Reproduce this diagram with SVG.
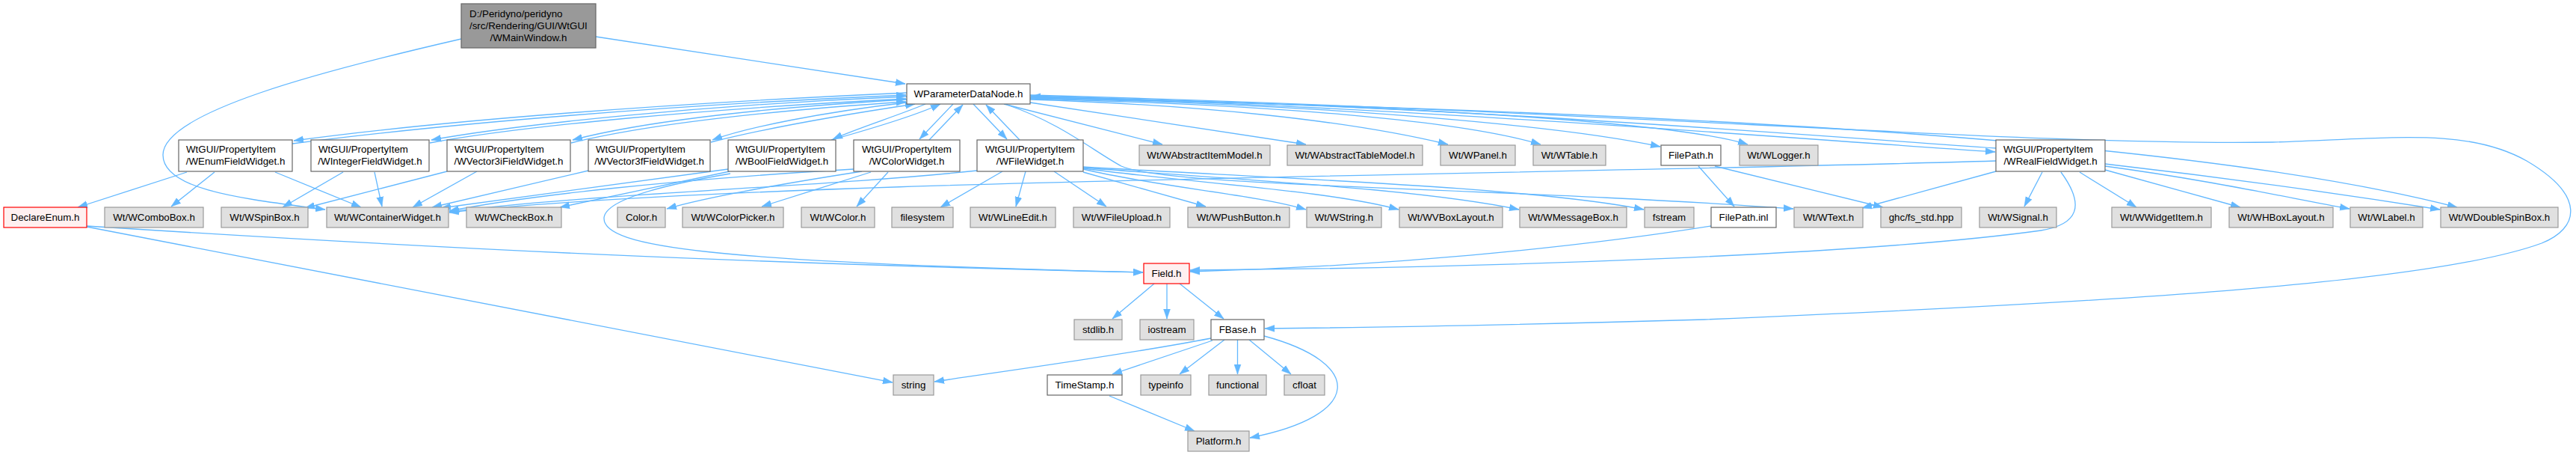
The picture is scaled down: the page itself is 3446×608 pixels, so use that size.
<svg xmlns="http://www.w3.org/2000/svg" width="3446" height="608" viewBox="0 0 3446 608">
<defs>
<marker id="a" viewBox="0 0 13 10" refX="13" refY="5" markerWidth="13" markerHeight="10" markerUnits="userSpaceOnUse" orient="auto">
<path d="M0,0.5 L13,5 L0,9.5 Z" fill="#63b8ff" stroke="#63b8ff" stroke-width="0.5"/>
</marker>
<style>
.w{fill:#fff;stroke:#666;stroke-width:1.2}
.g{fill:#e0e0e0;stroke:#999;stroke-width:1.2}
.r{fill:#fff0f0;stroke:#f00;stroke-width:1.2}
.m{fill:#999;stroke:#666;stroke-width:1.2}
text{font-family:"Liberation Sans",Arial,Helvetica,sans-serif;font-size:13.33px;fill:#000}
.c{text-anchor:middle}
#edges path{fill:none;stroke:#63b8ff;stroke-width:1.3;marker-end:url(#a)}
</style>
</defs>
<rect width="3446" height="608" fill="#fff"/>
<g id="edges">
<path d="M797,49 L1211,112"/>
<path d="M617,52 C430,95 218,150 218,207 C218,255 330,266 435,280"/>
<path d="M1213,124 C900,138 600,160 393,188"/>
<path d="M391,192 C600,165 900,140 1212,127"/>
<path d="M1213,129 C950,140 700,165 577,187"/>
<path d="M575,191 C700,168 950,145 1212,132"/>
<path d="M1213,133 C1000,145 850,165 766,187"/>
<path d="M764,191 C850,170 1000,150 1212,136"/>
<path d="M1213,137 C1100,150 1000,170 953,187"/>
<path d="M951,190 C1030,170 1150,150 1224,139"/>
<path d="M1238,139 C1200,155 1150,170 1114,186"/>
<path d="M1112,187 C1180,168 1230,152 1258,139"/>
<path d="M1275,139 L1230,186"/>
<path d="M1243,187 L1288,140"/>
<path d="M1302,139 L1347,186"/>
<path d="M1364,187 L1319,140"/>
<path d="M1378,128 C1900,145 2300,178 2669,203"/>
<path d="M2670,198 C2300,172 1900,140 1379,129"/>
<path d="M1343,139 L1555,193"/>
<path d="M1378,137 L1747,193"/>
<path d="M1378,133 C1600,140 1800,160 1937,193"/>
<path d="M1378,132 C1700,140 1950,160 2061,193"/>
<path d="M1378,131 C1800,140 2100,170 2221,196"/>
<path d="M1378,130 C1900,140 2250,165 2338,193"/>
<path d="M1378,131 C2300,150 2950,190 3287,277"/>
<path d="M1378,127 C2200,150 2700,195 3040,190 C3200,185 3300,170 3380,215 C3460,262 3450,305 3400,325 C3250,380 2800,405 2280,427 C2000,435 1800,438 1692,439"/>
<path d="M1347,140 C1420,165 1460,200 1500,222 C1560,250 2000,250 2399,279"/>
<path d="M1341,229 L1258,277"/>
<path d="M1372,229 L1359,276"/>
<path d="M1410,229 L1480,276"/>
<path d="M1449,230 L1613,276"/>
<path d="M1449,226 C1550,250 1680,260 1747,280"/>
<path d="M1449,225 C1600,245 1780,255 1871,280"/>
<path d="M1449,224 C1650,240 1900,252 2032,280"/>
<path d="M1449,223 C1700,238 2050,250 2199,280"/>
<path d="M1307,228 C1100,250 800,258 601,283"/>
<path d="M2670,215 C2000,235 1000,240 601,284"/>
<path d="M1142,226 C900,240 700,262 601,282"/>
<path d="M974,226 L590,278"/>
<path d="M787,228 L578,277"/>
<path d="M638,229 L552,277"/>
<path d="M598,229 L408,278"/>
<path d="M459,230 L378,277"/>
<path d="M501,230 L511,276"/>
<path d="M250,230 L104,277"/>
<path d="M287,230 L229,276"/>
<path d="M368,230 L483,277"/>
<path d="M976,229 L749,277"/>
<path d="M977,232 C870,250 808,270 808,292 C808,330 950,350 1529,364"/>
<path d="M1153,229 C1050,245 950,262 892,279"/>
<path d="M1165,230 L1019,276"/>
<path d="M1188,230 L1146,276"/>
<path d="M116,302 C600,333 1000,352 1529,364"/>
<path d="M116,303 L1194,511"/>
<path d="M1544,379 L1488,426"/>
<path d="M1561,379 L1561,426"/>
<path d="M1578,379 L1637,426"/>
<path d="M1620,452 C1500,475 1350,495 1250,510"/>
<path d="M1622,455 L1488,500"/>
<path d="M1638,454 L1578,500"/>
<path d="M1655.5,454 L1655.5,500"/>
<path d="M1671,454 L1727,500"/>
<path d="M1691,449 C1825,485 1825,555 1672,585"/>
<path d="M1484,529 L1598,576"/>
<path d="M2272,222 L2320,276"/>
<path d="M2294,222 L2519,277"/>
<path d="M2289,302 C2100,332 1850,356 1592,363"/>
<path d="M2757,230 C2790,275 2780,300 2730,308 C2500,340 2000,358 1592,361"/>
<path d="M2670,229 L2491,278"/>
<path d="M2732,230 L2708,276"/>
<path d="M2782,230 L2858,277"/>
<path d="M2816,227 L2997,277"/>
<path d="M2816,222 C2950,240 3050,262 3143,279"/>
<path d="M2816,219 C3000,240 3150,262 3264,280"/>
</g>
<g id="n_main"><rect class="m" x="617" y="5" width="180" height="59"/><text x="628" y="22.5">D:/Peridyno/peridyno</text><text x="628" y="38.5">/src/Rendering/GUI/WtGUI</text><text class="c" x="707" y="54.5">/WMainWindow.h</text></g>
<g id="n_param"><rect class="w" x="1213" y="112" width="165" height="27"/><text class="c" x="1295.5" y="130">WParameterDataNode.h</text></g>
<g id="n_enum"><rect class="w" x="239" y="187" width="152" height="42"/><text x="249" y="204">WtGUI/PropertyItem</text><text class="c" x="315" y="220">/WEnumFieldWidget.h</text></g>
<g id="n_int"><rect class="w" x="416" y="187" width="158" height="42"/><text x="426" y="204">WtGUI/PropertyItem</text><text class="c" x="495" y="220">/WIntegerFieldWidget.h</text></g>
<g id="n_v3i"><rect class="w" x="598" y="187" width="165" height="42"/><text x="608" y="204">WtGUI/PropertyItem</text><text class="c" x="680.5" y="220">/WVector3iFieldWidget.h</text></g>
<g id="n_v3f"><rect class="w" x="787" y="187" width="163" height="42"/><text x="797" y="204">WtGUI/PropertyItem</text><text class="c" x="868.5" y="220">/WVector3fFieldWidget.h</text></g>
<g id="n_bool"><rect class="w" x="974" y="187" width="144" height="42"/><text x="984" y="204">WtGUI/PropertyItem</text><text class="c" x="1046" y="220">/WBoolFieldWidget.h</text></g>
<g id="n_color"><rect class="w" x="1142" y="187" width="142" height="42"/><text x="1153" y="204">WtGUI/PropertyItem</text><text class="c" x="1213" y="220">/WColorWidget.h</text></g>
<g id="n_file"><rect class="w" x="1307" y="187" width="142" height="42"/><text x="1318" y="204">WtGUI/PropertyItem</text><text class="c" x="1378" y="220">/WFileWidget.h</text></g>
<g id="n_real"><rect class="w" x="2670" y="187" width="146" height="42"/><text x="2680" y="204">WtGUI/PropertyItem</text><text class="c" x="2743" y="220">/WRealFieldWidget.h</text></g>
<g id="n_aim"><rect class="g" x="1524" y="194" width="175" height="27"/><text class="c" x="1611.5" y="212">Wt/WAbstractItemModel.h</text></g>
<g id="n_atm"><rect class="g" x="1722" y="194" width="181" height="27"/><text class="c" x="1812.5" y="212">Wt/WAbstractTableModel.h</text></g>
<g id="n_panel"><rect class="g" x="1927" y="194" width="100" height="27"/><text class="c" x="1977" y="212">Wt/WPanel.h</text></g>
<g id="n_table"><rect class="g" x="2051" y="194" width="97" height="27"/><text class="c" x="2099.5" y="212">Wt/WTable.h</text></g>
<g id="n_filepath"><rect class="w" x="2222" y="194" width="80" height="27"/><text class="c" x="2262" y="212">FilePath.h</text></g>
<g id="n_logger"><rect class="g" x="2327" y="194" width="105" height="27"/><text class="c" x="2379.5" y="212">Wt/WLogger.h</text></g>
<g id="n_declareenum"><rect class="r" x="5" y="277" width="111" height="27"/><text class="c" x="60.5" y="295">DeclareEnum.h</text></g>
<g id="n_combobox"><rect class="g" x="140" y="277" width="132" height="27"/><text class="c" x="206" y="295">Wt/WComboBox.h</text></g>
<g id="n_spinbox"><rect class="g" x="296" y="277" width="116" height="27"/><text class="c" x="354" y="295">Wt/WSpinBox.h</text></g>
<g id="n_container"><rect class="g" x="437" y="277" width="163" height="27"/><text class="c" x="518.5" y="295">Wt/WContainerWidget.h</text></g>
<g id="n_checkbox"><rect class="g" x="624" y="277" width="127" height="27"/><text class="c" x="687.5" y="295">Wt/WCheckBox.h</text></g>
<g id="n_colorh"><rect class="g" x="826" y="277" width="64" height="27"/><text class="c" x="858" y="295">Color.h</text></g>
<g id="n_colorpicker"><rect class="g" x="913" y="277" width="135" height="27"/><text class="c" x="980.5" y="295">Wt/WColorPicker.h</text></g>
<g id="n_wcolor"><rect class="g" x="1072" y="277" width="98" height="27"/><text class="c" x="1121" y="295">Wt/WColor.h</text></g>
<g id="n_filesystem"><rect class="g" x="1193" y="277" width="82" height="27"/><text class="c" x="1234" y="295">filesystem</text></g>
<g id="n_lineedit"><rect class="g" x="1298" y="277" width="114" height="27"/><text class="c" x="1355" y="295">Wt/WLineEdit.h</text></g>
<g id="n_fileupload"><rect class="g" x="1436" y="277" width="129" height="27"/><text class="c" x="1500.5" y="295">Wt/WFileUpload.h</text></g>
<g id="n_pushbutton"><rect class="g" x="1589" y="277" width="136" height="27"/><text class="c" x="1657" y="295">Wt/WPushButton.h</text></g>
<g id="n_string_w"><rect class="g" x="1748" y="277" width="100" height="27"/><text class="c" x="1798" y="295">Wt/WString.h</text></g>
<g id="n_vbox"><rect class="g" x="1872" y="277" width="138" height="27"/><text class="c" x="1941" y="295">Wt/WVBoxLayout.h</text></g>
<g id="n_msgbox"><rect class="g" x="2033" y="277" width="143" height="27"/><text class="c" x="2104.5" y="295">Wt/WMessageBox.h</text></g>
<g id="n_fstream"><rect class="g" x="2200" y="277" width="66" height="27"/><text class="c" x="2233" y="295">fstream</text></g>
<g id="n_filepathinl"><rect class="w" x="2289" y="277" width="87" height="27"/><text class="c" x="2332.5" y="295">FilePath.inl</text></g>
<g id="n_wtext"><rect class="g" x="2400" y="277" width="92" height="27"/><text class="c" x="2446" y="295">Wt/WText.h</text></g>
<g id="n_ghc"><rect class="g" x="2516" y="277" width="108" height="27"/><text class="c" x="2570" y="295">ghc/fs_std.hpp</text></g>
<g id="n_signal"><rect class="g" x="2648" y="277" width="103" height="27"/><text class="c" x="2699.5" y="295">Wt/WSignal.h</text></g>
<g id="n_widgetitem"><rect class="g" x="2825" y="277" width="133" height="27"/><text class="c" x="2891.5" y="295">Wt/WWidgetItem.h</text></g>
<g id="n_hbox"><rect class="g" x="2982" y="277" width="139" height="27"/><text class="c" x="3051.5" y="295">Wt/WHBoxLayout.h</text></g>
<g id="n_label"><rect class="g" x="3144" y="277" width="97" height="27"/><text class="c" x="3192.5" y="295">Wt/WLabel.h</text></g>
<g id="n_dspin"><rect class="g" x="3265" y="277" width="157" height="27"/><text class="c" x="3343.5" y="295">Wt/WDoubleSpinBox.h</text></g>
<g id="n_field"><rect class="r" x="1530" y="352" width="61" height="27"/><text class="c" x="1560.5" y="370">Field.h</text></g>
<g id="n_stdlib"><rect class="g" x="1437" y="427" width="64" height="27"/><text class="c" x="1469" y="445">stdlib.h</text></g>
<g id="n_iostream"><rect class="g" x="1525" y="427" width="72" height="27"/><text class="c" x="1561" y="445">iostream</text></g>
<g id="n_fbase"><rect class="w" x="1620" y="427" width="71" height="27"/><text class="c" x="1655.5" y="445">FBase.h</text></g>
<g id="n_string"><rect class="g" x="1195" y="501" width="54" height="27"/><text class="c" x="1222" y="519">string</text></g>
<g id="n_timestamp"><rect class="w" x="1401" y="501" width="100" height="27"/><text class="c" x="1451" y="519">TimeStamp.h</text></g>
<g id="n_typeinfo"><rect class="g" x="1526" y="501" width="67" height="27"/><text class="c" x="1559.5" y="519">typeinfo</text></g>
<g id="n_functional"><rect class="g" x="1617" y="501" width="77" height="27"/><text class="c" x="1655.5" y="519">functional</text></g>
<g id="n_cfloat"><rect class="g" x="1718" y="501" width="54" height="27"/><text class="c" x="1745" y="519">cfloat</text></g>
<g id="n_platform"><rect class="g" x="1589" y="576" width="82" height="27"/><text class="c" x="1630" y="594">Platform.h</text></g>
</svg>
